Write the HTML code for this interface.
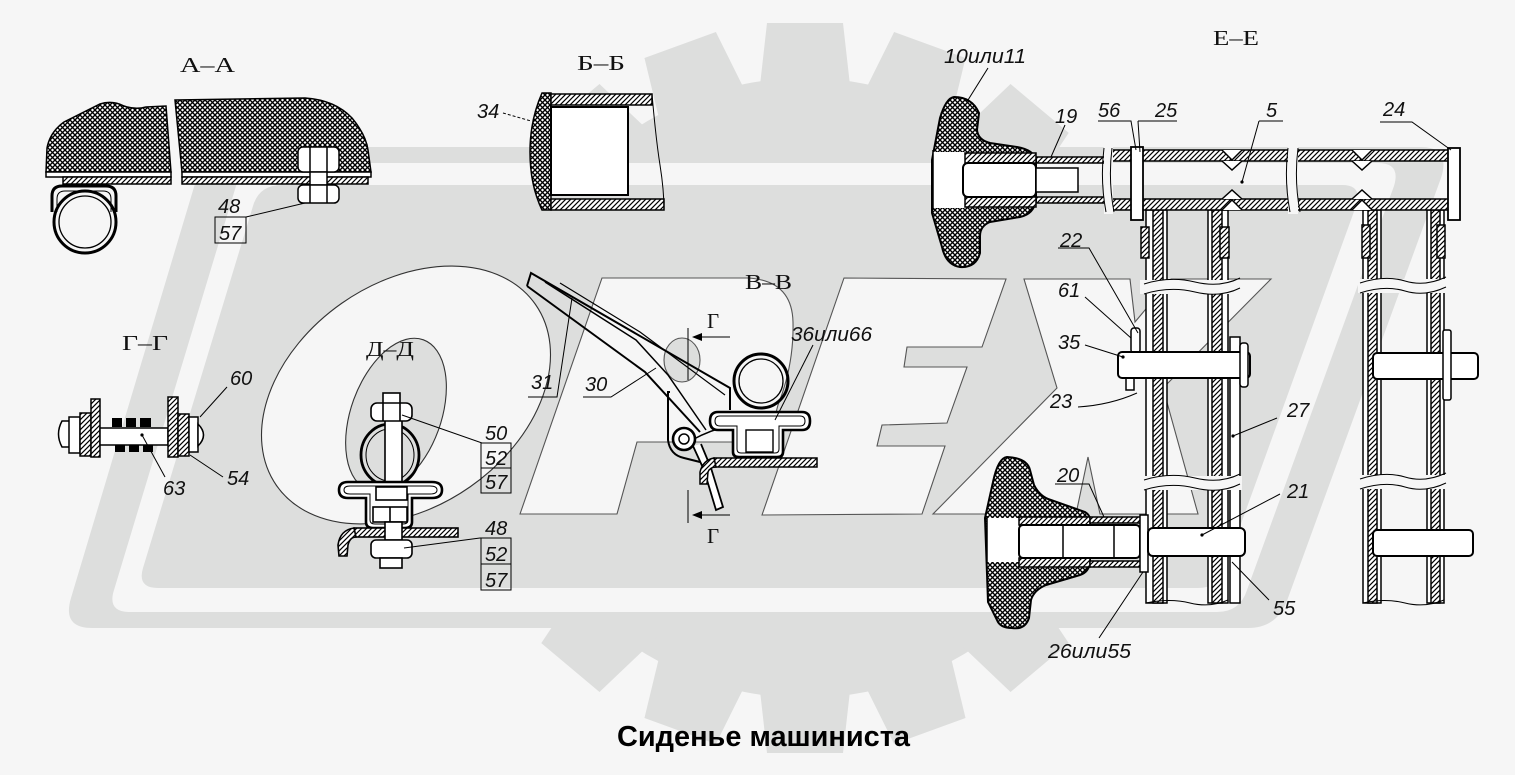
<!DOCTYPE html>
<html><head><meta charset="utf-8">
<style>
html,body{margin:0;padding:0;background:#f6f6f6;width:1515px;height:775px;overflow:hidden}
svg{display:block}
.n{font-family:"Liberation Sans",sans-serif;font-style:italic;font-size:20px;fill:#111}
.s{font-family:"Liberation Serif",serif;font-size:21px;fill:#111}
.t{font-family:"Liberation Sans",sans-serif;font-weight:bold;font-size:29px;fill:#000}
</style></head><body>
<svg width="1515" height="775" viewBox="0 0 1515 775" xmlns="http://www.w3.org/2000/svg">
<defs>
<pattern id="xh" patternUnits="userSpaceOnUse" width="5" height="5">
<rect width="5" height="5" fill="#fff"/>
<path d="M0,0 L5,5 M5,0 L0,5" stroke="#000" stroke-width="1.35"/>
</pattern>
<pattern id="hh" patternUnits="userSpaceOnUse" width="5" height="5">
<rect width="5" height="5" fill="#fff"/>
<path d="M0,5 L5,0 M-1,1 L1,-1 M4,6 L6,4" stroke="#000" stroke-width="1.2"/>
</pattern>
<polygon id="tooth" points="767,23 843,23 853,112 757,112"/>
</defs>

<rect width="1515" height="775" fill="#f6f6f6"/>

<!-- watermark gear -->
<g fill="#dddedd">
<circle cx="805" cy="388" r="310"/>
<use href="#tooth" transform="rotate(0 805 388)"/>
<use href="#tooth" transform="rotate(20 805 388)"/>
<use href="#tooth" transform="rotate(40 805 388)"/>
<use href="#tooth" transform="rotate(60 805 388)"/>
<use href="#tooth" transform="rotate(80 805 388)"/>
<use href="#tooth" transform="rotate(100 805 388)"/>
<use href="#tooth" transform="rotate(120 805 388)"/>
<use href="#tooth" transform="rotate(140 805 388)"/>
<use href="#tooth" transform="rotate(160 805 388)"/>
<use href="#tooth" transform="rotate(180 805 388)"/>
<use href="#tooth" transform="rotate(200 805 388)"/>
<use href="#tooth" transform="rotate(220 805 388)"/>
<use href="#tooth" transform="rotate(240 805 388)"/>
<use href="#tooth" transform="rotate(260 805 388)"/>
<use href="#tooth" transform="rotate(280 805 388)"/>
<use href="#tooth" transform="rotate(300 805 388)"/>
<use href="#tooth" transform="rotate(320 805 388)"/>
<use href="#tooth" transform="rotate(340 805 388)"/>
</g>
<!-- frame -->
<path d="M236,147 H1421 Q1451,147 1441,178 L1288,598 Q1278,628 1248,628 H92 Q62,628 71,598 L197,177 Q206,147 236,147 Z" fill="#dddedd"/>
<path d="M268,163 H1378 Q1401,163 1394,186 L1247,590 Q1240,612 1217,612 H130 Q107,612 114,590 L236,186 Q243,163 268,163 Z" fill="#f6f6f6"/>
<path d="M282,185 H1342 Q1363,185 1356,206 L1225,568 Q1218,588 1198,588 H158 Q137,588 143,568 L253,206 Q259,185 282,185 Z" fill="#dddedd"/>

<!-- letters OREX -->
<g stroke="#555" stroke-width="1.1">
<ellipse cx="406" cy="395" rx="158" ry="112" transform="rotate(-35 406 395)" fill="#f6f6f6" stroke="#333"/>
<ellipse cx="396" cy="415" rx="80" ry="45" transform="rotate(-70 396 415)" fill="#dddedd" stroke="#333"/>
<path d="M520,514 L602,278 L747,278 Q792,280 793,322 Q794,365 778,405 L768,442 L637,442 L617,514 Z" fill="#f6f6f6"/>
<ellipse cx="682" cy="360" rx="18" ry="22" fill="#dddedd"/>
<path d="M762,515 L844,278 L1006,279 L982,347 L907,347 L904,367 L967,367 L947,423 L882,425 L877,446 L945,446 L922,514 Z" fill="#f6f6f6"/>
<path d="M1024,279 L1130,279 L1135,322 L1171,279 L1271,279 L1163,388 L1198,514 L1100,514 L1088,457 L1076,514 L933,514 L1057,388 Z" fill="#f6f6f6"/>
</g>

<!-- ================= А-А ================= -->
<g stroke="#000" stroke-width="1.5">
<path d="M46,172 L47,148 Q50,132 64,122 L100,104 Q112,100 124,106 Q135,110 146,107 L166,106 L171,172 Z" fill="url(#xh)"/>
<path d="M175,100 L305,98 Q335,100 352,118 Q366,135 368,150 L371,172 L182,172 Z" fill="url(#xh)"/>
<rect x="46" y="172" width="125" height="5" fill="#fff"/>
<rect x="63" y="177" width="108" height="7" fill="url(#hh)"/>
<rect x="182" y="172" width="189" height="5" fill="#fff"/>
<rect x="182" y="177" width="186" height="7" fill="url(#hh)"/>
<rect x="298" y="147" width="41" height="25" rx="5" fill="#fff"/>
<path d="M310,147 V172 M327,147 V172" fill="none"/>
<rect x="310" y="172" width="17" height="13" fill="#fff"/>
<rect x="298" y="185" width="41" height="18" rx="5" fill="#fff"/>
<path d="M310,185 V203 M327,185 V203" fill="none"/>
<circle cx="85" cy="222" r="31" fill="#f6f6f6" stroke-width="3"/>
<circle cx="85" cy="222" r="26" fill="#f6f6f6" stroke-width="1.3"/>
<path d="M52,212 V196 Q52,186 62,186 H106 Q116,186 116,196 V212" fill="none" stroke-width="3"/>
<path d="M57,212 V199 Q57,191 65,191 H103 Q111,191 111,199 V212" fill="none" stroke-width="1"/>
</g>
<g stroke="#000" stroke-width="1" fill="none">
<path d="M246,217 L305,203"/>
<rect x="215" y="217" width="31" height="26"/>
</g>
<text class="s" x="180" y="72" textLength="55" lengthAdjust="spacingAndGlyphs">А–А</text>
<text class="n" x="218" y="213">48</text>
<text class="n" x="219" y="240">57</text>

<!-- ================= Б-Б ================= -->
<g stroke="#000" stroke-width="1.5">
<path d="M542,93 Q530,120 530,152 Q530,185 542,210 L551,210 L551,93 Z" fill="url(#xh)"/>
<rect x="551" y="94" width="101" height="11" fill="url(#hh)"/>
<rect x="551" y="199" width="113" height="11" fill="url(#hh)"/>
<rect x="551" y="107" width="77" height="88" fill="#fff" stroke-width="2"/>
<path d="M652,94 Q656,140 660,165 Q664,190 664,210" fill="none" stroke-width="1"/>
<path d="M503,113 L531,121" fill="none" stroke-width="1" stroke-dasharray="3,2"/>
</g>
<text class="s" x="577" y="70" textLength="48" lengthAdjust="spacingAndGlyphs">Б–Б</text>
<text class="n" x="477" y="118">34</text>

<!-- ================= Г-Г ================= -->
<g stroke="#000" stroke-width="1.5">
<path d="M62,421 H72 V447 H62 Q55,434 62,421 Z" fill="#fff"/>
<rect x="69" y="417" width="11" height="36" fill="#fff"/>
<rect x="80" y="413" width="11" height="43" fill="url(#hh)"/>
<rect x="91" y="399" width="9" height="58" fill="url(#hh)"/>
<rect x="100" y="428" width="68" height="17" fill="#fff"/>
<rect x="168" y="397" width="10" height="60" fill="url(#hh)"/>
<rect x="178" y="414" width="11" height="42" fill="url(#hh)"/>
<rect x="189" y="417" width="9" height="35" fill="#fff"/>
<path d="M198,424 Q209,435 198,446 Z" fill="#fff"/>
</g>
<g fill="#000">
<rect x="112" y="418" width="10" height="9"/><rect x="126" y="418" width="10" height="9"/><rect x="140" y="418" width="11" height="9"/>
<rect x="115" y="445" width="10" height="7"/><rect x="129" y="445" width="10" height="7"/><rect x="143" y="445" width="10" height="7"/>
</g>
<g stroke="#000" stroke-width="1" fill="none">
<path d="M227,387 L200,417"/><path d="M223,477 L190,455"/><path d="M165,477 L142,435"/>
</g>
<circle cx="142" cy="435" r="1.6" fill="#000"/>
<text class="s" x="122" y="350" textLength="46" lengthAdjust="spacingAndGlyphs">Г–Г</text>
<text class="n" x="230" y="385">60</text>
<text class="n" x="227" y="485">54</text>
<text class="n" x="163" y="495">63</text>

<!-- ================= Д-Д ================= -->
<g stroke="#000" stroke-width="1.6">
<rect x="383" y="393" width="17" height="11" fill="#fff"/>
<ellipse cx="390" cy="455" rx="29" ry="31" fill="none" stroke-width="2.8"/>
<ellipse cx="390" cy="455" rx="24" ry="26" fill="none" stroke-width="1"/>
<rect x="385" y="420" width="17" height="66" fill="#fff"/>
<rect x="371" y="403" width="41" height="18" rx="6" fill="#fff"/>
<path d="M383,403 V421 M400,403 V421" fill="none"/>
<path d="M348,482 H432 Q442,482 442,490 Q442,498 432,498 H412 V522 Q412,528 405,528 H373 Q366,528 366,522 V498 H348 Q339,498 339,490 Q339,482 348,482 Z" fill="#fff" stroke-width="2.6"/>
<path d="M350,486 H430 Q437,486 437,490 Q437,494 430,494 H408 V520 Q408,524 403,524 H375 Q370,524 370,520 V494 H350 Q344,494 344,490 Q344,486 350,486 Z" fill="none" stroke-width="1"/>
<rect x="376" y="487" width="31" height="13" fill="#fff"/>
<rect x="373" y="507" width="34" height="15" fill="#fff"/>
<path d="M390,507 V522" fill="none"/>
<rect x="354" y="528" width="104" height="9" fill="url(#hh)"/>
<path d="M354,528 Q340,530 338,545 L339,556 L347,556 L348,545 Q350,537 356,537 Z" fill="url(#hh)"/>
<rect x="385" y="522" width="17" height="18" fill="#fff"/>
<rect x="371" y="540" width="41" height="18" rx="5" fill="#fff"/>
<rect x="380" y="558" width="22" height="10" fill="#fff"/>
</g>
<g stroke="#000" stroke-width="1" fill="none">
<path d="M402,415 L482,443 H511"/>
<rect x="481" y="443" width="30" height="50"/><path d="M481,468 H511"/>
<path d="M404,548 L480,538 H511"/>
<rect x="481" y="538" width="30" height="52"/><path d="M481,564 H511"/>
</g>
<text class="s" x="366" y="356" textLength="48" lengthAdjust="spacingAndGlyphs">Д–Д</text>
<text class="n" x="485" y="440">50</text>
<text class="n" x="485" y="465">52</text>
<text class="n" x="485" y="489">57</text>
<text class="n" x="485" y="535">48</text>
<text class="n" x="485" y="561">52</text>
<text class="n" x="485" y="587">57</text>

<!-- ================= В-В ================= -->
<g stroke="#000" stroke-width="2" fill="none">
<path d="M527,286 L531,273 L730,388 L730,410"/>
<path d="M527,286 L645,372 L700,432"/>
<path d="M545,282 L636,340 L668,375 L706,430" stroke-width="1.5"/>
<path d="M560,283 L640,332 L725,395" stroke-width="1.2"/>
<path d="M670,392 L668,392 L668,440 Q670,455 684,458 L700,462"/>
<path d="M693,446 L704,470 L716,510 L723,507 L711,468 L701,444" fill="#fff" stroke-width="1.8"/>
<path d="M692,440 Q710,430 732,425" stroke-width="1.5"/>
</g>
<g stroke="#000" stroke-width="2">
<circle cx="684" cy="439" r="11" fill="#fff" stroke-width="2.6"/>
<circle cx="684" cy="439" r="5" fill="#fff" stroke-width="1.5"/>
<rect x="714" y="458" width="103" height="9" fill="url(#hh)" stroke-width="1.5"/>
<path d="M714,458 Q703,460 700,472 L700,484 L707,484 L708,472 Q710,467 716,467 Z" fill="url(#hh)" stroke-width="1.5"/>
<circle cx="761" cy="381" r="27" fill="none" stroke-width="3"/>
<circle cx="761" cy="381" r="22" fill="none" stroke-width="1.3"/>
<path d="M718,412 H802 Q810,412 810,421 Q810,430 802,430 H783 V452 Q783,457 777,457 H739 Q733,457 733,452 V430 H718 Q710,430 710,421 Q710,412 718,412 Z" fill="#fff" stroke-width="2.6"/>
<path d="M720,416 H800 Q805,416 805,421 Q805,426 800,426 H779 V449 Q779,453 775,453 H741 Q737,453 737,449 V426 H720 Q715,426 715,421 Q715,416 720,416 Z" fill="none" stroke-width="1"/>
<rect x="746" y="430" width="27" height="22" fill="#fff" stroke-width="1.4"/>
</g>
<g stroke="#000" stroke-width="1" fill="none">
<path d="M528,397 H557 L572,298"/>
<path d="M583,397 H611 L656,368"/>
<path d="M813,345 L775,420"/>
<path d="M688,328 V380"/><path d="M730,337 H696"/>
<path d="M688,490 V523"/><path d="M730,515 H696"/>
</g>
<path d="M692,337 L702,333 L702,341 Z M692,515 L702,511 L702,519 Z" fill="#000"/>
<text class="s" x="745" y="289" textLength="47" lengthAdjust="spacingAndGlyphs">В–В</text>
<text class="s" x="707" y="328">Г</text>
<text class="s" x="707" y="543">Г</text>
<text class="n" x="531" y="389">31</text>
<text class="n" x="585" y="391">30</text>
<text class="n" x="791" y="341" textLength="81" lengthAdjust="spacingAndGlyphs">36или66</text>

<!-- ================= Е-Е ================= -->
<g stroke="#000" stroke-width="1.5">
<rect x="1146" y="210" width="21" height="393" fill="#fff"/>
<rect x="1153" y="210" width="10" height="393" fill="url(#hh)"/>
<rect x="1208" y="210" width="20" height="393" fill="#fff"/>
<rect x="1212" y="210" width="10" height="393" fill="url(#hh)"/>
<rect x="1141" y="227" width="8" height="31" fill="url(#hh)"/>
<rect x="1220" y="227" width="9" height="31" fill="url(#hh)"/>
<rect x="1363" y="210" width="18" height="393" fill="#fff"/>
<rect x="1368" y="210" width="9" height="393" fill="url(#hh)"/>
<rect x="1427" y="210" width="17" height="393" fill="#fff"/>
<rect x="1431" y="210" width="9" height="393" fill="url(#hh)"/>
<rect x="1362" y="225" width="8" height="33" fill="url(#hh)"/>
<rect x="1437" y="225" width="8" height="33" fill="url(#hh)"/>
<rect x="1230" y="337" width="10" height="266" fill="#fff"/>
</g>
<g>
<rect x="1140" y="280" width="102" height="14" fill="#f6f6f6"/>
<rect x="1140" y="476" width="102" height="14" fill="#f6f6f6"/>
<rect x="1358" y="279" width="90" height="14" fill="#f6f6f6"/>
<rect x="1358" y="475" width="90" height="14" fill="#f6f6f6"/>
</g>
<g stroke="#000" stroke-width="1" fill="none">
<path d="M1144,284 Q1170,276 1195,282 T1240,278"/>
<path d="M1144,294 Q1170,286 1195,292 T1240,288"/>
<path d="M1144,480 Q1170,472 1195,478 T1240,474"/>
<path d="M1144,490 Q1170,482 1195,488 T1240,484"/>
<path d="M1360,283 Q1385,275 1405,281 T1446,277"/>
<path d="M1360,293 Q1385,285 1405,291 T1446,287"/>
<path d="M1360,479 Q1385,471 1405,477 T1446,473"/>
<path d="M1360,489 Q1385,481 1405,487 T1446,483"/>
<path d="M1146,603 Q1170,598 1190,603 T1228,600"/>
<path d="M1363,603 Q1385,598 1405,603 T1444,600"/>
</g>
<g stroke="#000" stroke-width="2">
<rect x="1131" y="328" width="9" height="25" rx="3" fill="#fff" stroke-width="1.5"/>
<rect x="1126" y="377" width="8" height="13" fill="#fff" stroke-width="1.5"/>
<rect x="1118" y="352" width="132" height="26" rx="4" fill="#fff"/>
<rect x="1240" y="343" width="8" height="44" rx="3" fill="#fff" stroke-width="1.5"/>
<rect x="1373" y="353" width="105" height="26" rx="4" fill="#fff"/>
<rect x="1443" y="330" width="8" height="70" rx="2" fill="#fff" stroke-width="1.5"/>
<rect x="1373" y="530" width="100" height="26" rx="4" fill="#fff"/>
</g>
<g stroke="#000" stroke-width="1.5">
<rect x="1036" y="157" width="70" height="6" fill="url(#hh)"/>
<rect x="1036" y="197" width="70" height="6" fill="url(#hh)"/>
<rect x="1112" y="150" width="340" height="11" fill="url(#hh)"/>
<rect x="1112" y="199" width="340" height="11" fill="url(#hh)"/>
<rect x="1104" y="146" width="9" height="68" fill="#f6f6f6" stroke="none"/>
<rect x="1288" y="146" width="10" height="68" fill="#f6f6f6" stroke="none"/>
<path d="M1104,148 Q1100,180 1106,212 M1112,148 Q1108,180 1114,212 M1288,148 Q1284,180 1290,212 M1298,148 Q1294,180 1300,212" fill="none" stroke-width="1"/>
<path d="M1222,150 L1232,160 L1242,150 M1222,161 L1232,170 L1242,161 M1222,199 L1232,190 L1242,199 M1222,210 L1232,200 L1242,210" fill="#fff"/>
<path d="M1352,150 L1362,160 L1372,150 M1352,161 L1362,170 L1372,161 M1352,199 L1362,190 L1372,199 M1352,210 L1362,200 L1372,210" fill="#fff"/>
<rect x="1131" y="147" width="12" height="73" fill="#fff" stroke-width="1.8"/>
<rect x="1448" y="148" width="12" height="72" fill="#fff" stroke-width="1.8"/>
</g>
<g stroke="#000" stroke-width="2">
<path d="M954,97 Q972,97 979,113 L977,130 Q978,140 990,143 L1017,147 Q1034,150 1036,160 L1036,200 Q1034,214 1020,217 L990,222 Q980,226 980,236 L980,253 Q976,268 960,267 Q946,265 942,247 L932,213 L932,160 L940,118 Q946,98 954,97 Z" fill="url(#xh)"/>
<rect x="933" y="152" width="32" height="56" fill="#fff" stroke="none"/>
<path d="M933,150 V210" fill="none" stroke-width="1.5"/>
<rect x="965" y="153" width="71" height="10" fill="url(#hh)" stroke-width="1.5"/>
<rect x="965" y="197" width="71" height="10" fill="url(#hh)" stroke-width="1.5"/>
<rect x="963" y="163" width="73" height="34" rx="5" fill="#fff"/>
<rect x="1036" y="168" width="42" height="24" fill="#fff" stroke-width="1.5"/>
</g>
<g stroke="#000" stroke-width="2">
<path d="M1007,457 Q1027,458 1030,470 L1034,485 Q1040,497 1051,500 L1085,512 Q1090,515 1090,520 L1090,562 Q1089,572 1080,575 L1046,585 Q1034,590 1031,600 L1029,618 Q1025,630 1012,628 Q1000,628 997,620 L988,602 L985,518 L993,482 Q998,458 1007,457 Z" fill="url(#xh)"/>
<rect x="987" y="518" width="32" height="44" fill="#fff" stroke="none"/>
<path d="M987,516 V564" fill="none" stroke-width="1.5"/>
<rect x="1019" y="517" width="71" height="8" fill="url(#hh)" stroke-width="1.5"/>
<rect x="1019" y="558" width="71" height="9" fill="url(#hh)" stroke-width="1.5"/>
<rect x="1090" y="517" width="51" height="6" fill="url(#hh)" stroke-width="1.5"/>
<rect x="1090" y="561" width="51" height="6" fill="url(#hh)" stroke-width="1.5"/>
<rect x="1019" y="525" width="121" height="33" rx="4" fill="#fff"/>
<path d="M1063,525 V558 M1114,525 V558" fill="none" stroke-width="1.5"/>
<rect x="1140" y="515" width="8" height="57" fill="#fff" stroke-width="1.5"/>
<rect x="1148" y="528" width="97" height="28" rx="5" fill="#fff"/>
</g>
<g stroke="#000" stroke-width="1" fill="none">
<path d="M988,68 L968,100"/>
<path d="M1065,125 L1051,157"/>
<path d="M1098,121 H1131 L1136,150"/>
<path d="M1138,121 H1177 M1138,121 L1140,152"/>
<path d="M1259,121 H1283 M1259,121 L1242,182"/>
<path d="M1380,122 H1412 L1451,150"/>
<path d="M1058,248 H1089 L1138,333"/>
<path d="M1085,297 L1131,338"/>
<path d="M1085,345 L1123,357"/>
<path d="M1078,407 Q1110,405 1137,393"/>
<path d="M1277,418 L1233,436"/>
<path d="M1280,494 L1202,535"/>
<path d="M1055,484 H1089 L1104,517"/>
<path d="M1269,600 L1232,562"/>
<path d="M1099,638 L1143,572"/>
</g>
<g fill="#000">
<circle cx="1242" cy="182" r="1.6"/><circle cx="1123" cy="357" r="1.6"/><circle cx="1233" cy="436" r="1.6"/><circle cx="1202" cy="535" r="1.6"/>
</g>
<text class="s" x="1213" y="45" textLength="46" lengthAdjust="spacingAndGlyphs">Е–Е</text>
<text class="n" x="944" y="63" textLength="82" lengthAdjust="spacingAndGlyphs">10или11</text>
<text class="n" x="1055" y="123">19</text>
<text class="n" x="1098" y="117">56</text>
<text class="n" x="1155" y="117">25</text>
<text class="n" x="1266" y="117">5</text>
<text class="n" x="1383" y="116">24</text>
<text class="n" x="1060" y="247">22</text>
<text class="n" x="1058" y="297">61</text>
<text class="n" x="1058" y="349">35</text>
<text class="n" x="1050" y="408">23</text>
<text class="n" x="1287" y="417">27</text>
<text class="n" x="1287" y="498">21</text>
<text class="n" x="1057" y="482">20</text>
<text class="n" x="1273" y="615">55</text>
<text class="n" x="1048" y="658" textLength="83" lengthAdjust="spacingAndGlyphs">26или55</text>

<text class="t" x="617" y="746" textLength="293" lengthAdjust="spacingAndGlyphs">Сиденье машиниста</text>
</svg>
</body></html>
